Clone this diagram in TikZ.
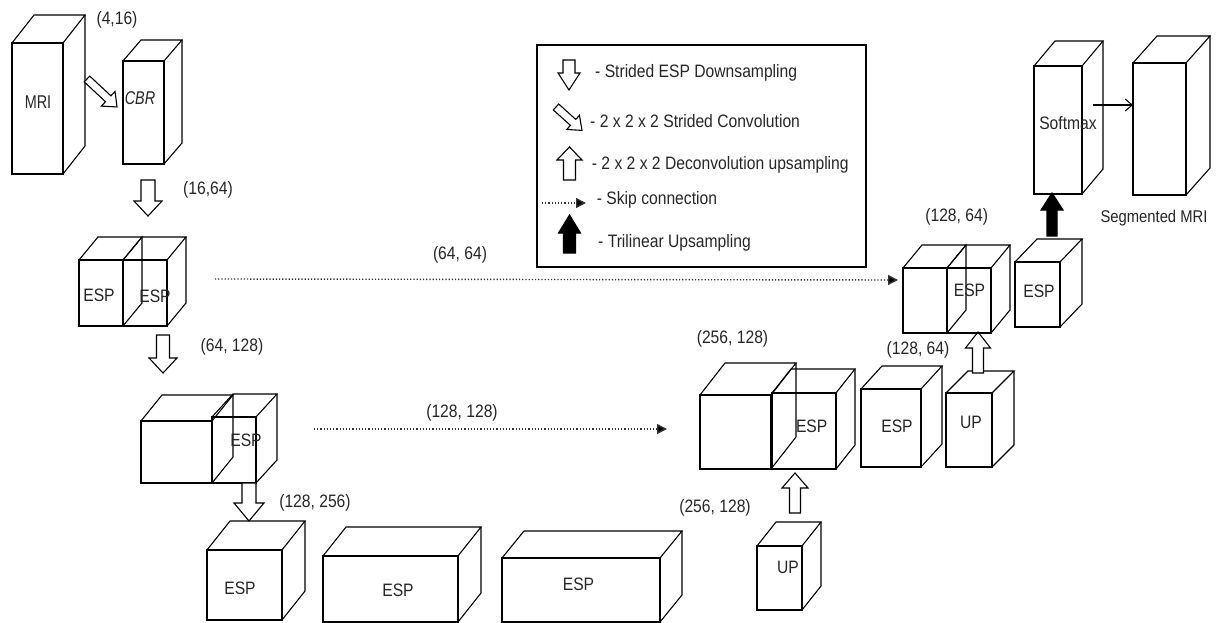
\documentclass[tikz,border=0pt]{standalone}
\usepackage{fontspec}
\setmainfont{Liberation Sans}[FakeStretch=0.87]
\newfontfamily\condfont{Liberation Sans}[FakeStretch=0.78]
\usetikzlibrary{arrows.meta}

\tikzset{
  edge/.style={draw=black, line width=1.1pt, line join=miter},
  face/.style={edge, inner sep=0pt, outer sep=0pt},
  lbl/.style={inner sep=0pt, text=black!85, font=\fontsize{18}{20}\selectfont},
  small/.style={inner sep=0pt, text=black!85, font=\condfont\fontsize{18.5}{20}\selectfont},
  hollow/.style={edge, fill=white},
  solid arrow/.style={edge, fill=black},
  skip/.style={draw=black!80, line width=1.4pt, dash pattern=on 1.2pt off 2pt,
               -{Triangle[length=10pt,width=10pt,fill=black]}},
  thin/.style={draw=black, line width=1.1pt, -{Straight Barb[length=7pt,width=12pt]}},
}

% front face as a named node, plus top and right faces (wireframe, no fill)
% #1 name, #2 x, #3 y of front top-left, #4 width, #5 height, #6 #7 depth offset
\newcommand{\cube}[7]{%
  \node[face, minimum width=#4pt, minimum height=#5pt, anchor=north west] (#1) at (#2,-#3) {};
  \draw[edge] (#1.north west) -- ++(#6,#7) -- ++(#4,0) -- (#1.north east);
  \draw[edge] (#1.north east) ++(#6,#7) -- ++(0,-#5) -- (#1.south east);}

% block arrow: #1 style, #2 #3 tail, #4 angle, #5 length, #6 shaft width, #7 head width, #8 head length
\newcommand{\blockarrow}[8]{%
  \draw[#1, shift={(#2,-#3)}, rotate=#4]
    (0,-#6/2) -- ({#5-#8},-#6/2) -- ({#5-#8},-#7/2) -- (#5,0)
    -- ({#5-#8},#7/2) -- ({#5-#8},#6/2) -- (0,#6/2) -- cycle;}

\begin{document}
\begin{tikzpicture}[x=1pt, y=1pt]
\useasboundingbox (0,0) rectangle (1216,-623);

% ---------------- input and first convolution ----------------
\cube{mri}{12}{43}{51}{131}{22}{28}
\node[small] (mrilbl) at (38,-102) {MRI};
\cube{cbr}{123}{61}{41}{103}{18}{21}
\node[small, font=\condfont\itshape\fontsize{18.5}{20}\selectfont] (cbrlbl) at (140,-98) {CBR};
\node[lbl] (d416) at (117,-20) {(4,16)};
\blockarrow{hollow}{87}{79}{-43}{41}{8}{20}{12}

% ---------------- encoder ----------------
\blockarrow{hollow}{148}{180}{-90}{36}{14}{28}{15}
\node[lbl] (d1664) at (208,-190) {(16,64)};

\cube{encA}{79}{260}{44}{66}{19}{23}
\cube{encB}{123}{260}{44}{66}{19}{23}
\node[lbl] at (99,-295) {ESP};
\node[lbl] at (155,-296) {ESP};

\blockarrow{hollow}{163}{335}{-90}{38}{13}{28}{15}
\node[lbl] (d64128) at (232,-347) {(64, 128)};

\cube{encC}{141}{421}{71}{62}{21}{26}
\cube{encD}{212}{417}{44}{66}{21}{23}
\node[lbl] at (246,-440) {ESP};

\blockarrow{hollow}{249}{483}{-90}{38}{14}{30}{18}
\node[lbl] (d128256) at (315,-503) {(128, 256)};

% ---------------- bottleneck ----------------
\cube{botA}{207}{550}{75}{70}{23}{29}
\node[lbl] at (240,-588) {ESP};
\cube{botB}{323}{556}{135}{66}{23}{29}
\node[lbl] at (398,-590) {ESP};
\cube{botC}{502}{558}{158}{64}{22}{27}
\node[lbl] at (578.5,-584) {ESP};

% ---------------- decoder, lower level ----------------
\cube{upA}{757}{546}{45}{64}{19}{24}
\node[lbl] at (788,-567) {UP};
\node[lbl] (d256b) at (715,-508) {(256, 128)};
\blockarrow{hollow}{795}{513}{90}{40}{11}{26}{15}

\cube{decA}{700}{395}{71}{74}{25}{32}
\cube{decB}{772}{393}{64}{76}{19}{24}
\node[lbl] at (811.7,-426) {ESP};
\node[lbl] (d256a) at (732.5,-339) {(256, 128)};

\cube{decC}{861}{389}{60}{78}{21}{23}
\node[lbl] at (897,-426) {ESP};
\node[lbl] (d12864b) at (918,-350) {(128, 64)};

\cube{upB}{946}{393}{46}{74}{22}{22}
\node[lbl] at (971,-422) {UP};
\blockarrow{hollow}{978}{373}{90}{41}{11}{25}{16}

% ---------------- decoder, upper level ----------------
\cube{decD}{903}{268}{44}{65}{19}{23}
\cube{decE}{947}{268}{44}{65}{19}{23}
\node[lbl] at (969.5,-290) {ESP};
\node[lbl] (d12864a) at (956.7,-217) {(128, 64)};

\cube{decF}{1015}{262}{45}{65}{22}{23}
\node[lbl] at (1039,-291) {ESP};
\blockarrow{solid arrow}{1052}{236}{90}{43}{10}{22}{17}

% ---------------- output ----------------
\cube{soft}{1034}{66}{48}{128}{21}{25}
\node[lbl] at (1068,-123) {Softmax};
\cube{seg}{1133}{63}{53}{132}{24}{27}
\node[lbl, font=\fontsize{17}{19}\selectfont] (seglbl) at (1154,-218) {Segmented MRI};
\coordinate (softout) at (1093,-105);
\draw[thin] (softout) -- (seg.west |- softout);

% ---------------- skip connections ----------------
\coordinate (skipAfrom) at (215,-279);
\coordinate (skipAto) at (898,-280);
\draw[skip] (skipAfrom) -- (skipAto);
\node[lbl] (d6464) at (460,-255) {(64, 64)};

\coordinate (skipBfrom) at (314,-429);
\coordinate (skipBto) at (667,-429);
\draw[skip] (skipBfrom) -- (skipBto);
\node[lbl] (d128128) at (462,-413) {(128, 128)};

% ---------------- legend ----------------
\node[face, minimum width=329pt, minimum height=222pt, anchor=north west] (legend) at (537,-45) {};
\blockarrow{hollow}{569}{60}{-90}{30}{12}{22}{17}
\node[lbl, anchor=west] at (595,-73) {- Strided ESP Downsampling};
\blockarrow{hollow}{556}{107}{-42}{35}{8}{19}{12}
\node[lbl, anchor=west] at (590,-121) {- 2 x 2 x 2 Strided Convolution};
\blockarrow{hollow}{569.5}{180}{90}{33}{12}{25}{13}
\node[lbl, anchor=west] at (591.7,-165) {- 2 x 2 x 2 Deconvolution upsampling};
\coordinate (legskipfrom) at (542,-203);
\coordinate (legskipto) at (586,-203);
\draw[skip] (legskipfrom) -- (legskipto);
\node[lbl, anchor=west] at (596.7,-200) {- Skip connection};
\blockarrow{solid arrow}{569.5}{253}{90}{38}{12}{22}{18}
\node[lbl, anchor=west] at (598,-243) {- Trilinear Upsampling};
\end{tikzpicture}
\end{document}
